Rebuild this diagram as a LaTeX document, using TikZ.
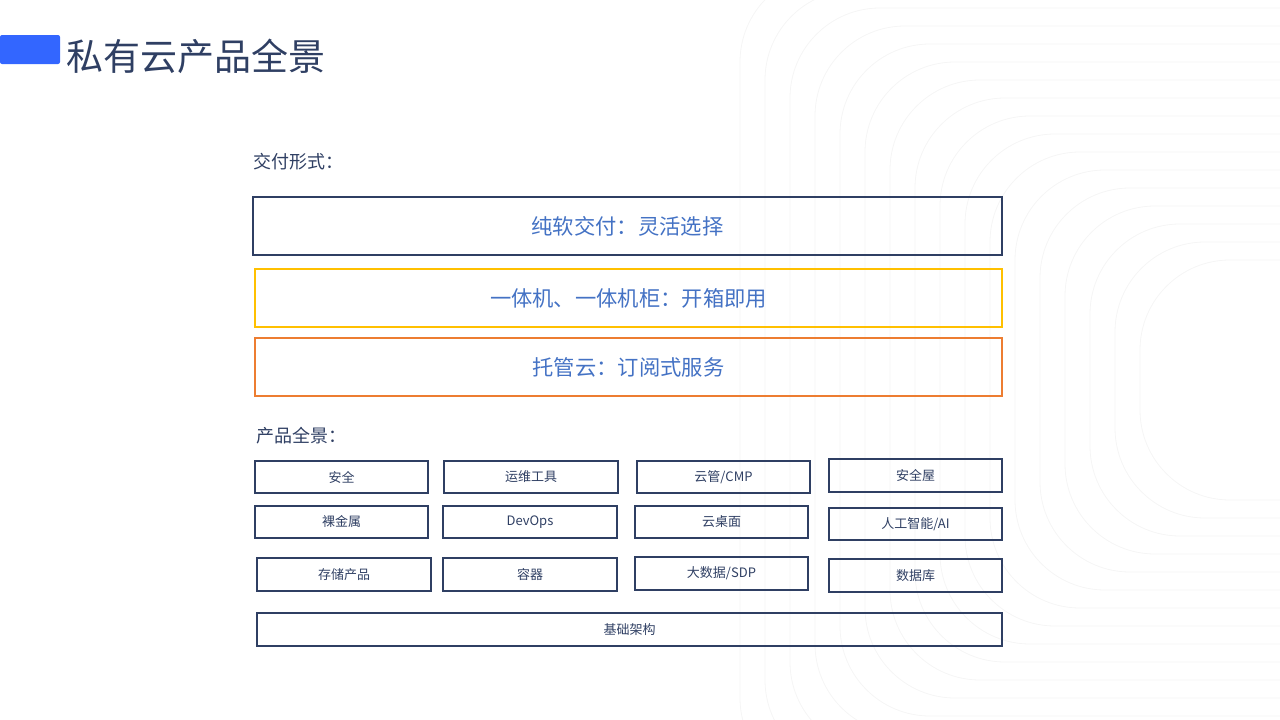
\documentclass[tikz,border=0pt]{standalone}
\usepackage{fontspec}
\newfontfamily\cjk{Noto Sans CJK SC}
\definecolor{navy}{HTML}{2F3F63}
\definecolor{tblue}{HTML}{4472C4}
\definecolor{ylw}{HTML}{FFC000}
\definecolor{org}{HTML}{ED7D31}
\definecolor{bar}{HTML}{3366FF}
\begin{document}
\begin{tikzpicture}[x=1pt,y=-1pt,
  big/.style={draw=#1,line width=2.5pt,font=\cjk\fontsize{21.3}{25}\selectfont,text=tblue},
  cell/.style={draw=navy,line width=2.5pt,font=\cjk\fontsize{13}{16}\selectfont,text=navy}]
\useasboundingbox (0,0) rectangle (1280,720);
\begin{scope}
\clip (0,0) rectangle (1280,720);
\foreach \i in {0,...,16}{
  \draw[black!4,line width=0.8pt,rounded corners=90pt] (1300-25*\i-160,380-18*\i-120) rectangle (1500,380+18*\i+120);
}
\end{scope}
\fill[bar,rounded corners=2pt] (0,35) rectangle (60,64);
\node[anchor=west,font=\cjk\fontsize{37}{42}\selectfont,text=navy] (title) at (63,56) {私有云产品全景};
\node[anchor=west,font=\cjk\fontsize{18}{22}\selectfont,text=navy] (l1) at (250,162) {交付形式：};
\node[big=navy] (p) [minimum width=749,minimum height=58] at (627.5,226) {纯软交付：灵活选择};
\node[big=ylw] (y) [minimum width=747,minimum height=58] at (628.5,298) {一体机、一体机柜：开箱即用};
\node[big=org] (o) [minimum width=747,minimum height=58] at (628.5,367) {托管云：订阅式服务};
\node[anchor=west,font=\cjk\fontsize{18}{22}\selectfont,text=navy] (l2) at (253,436) {产品全景：};
\node[cell,minimum width=173,minimum height=32] (a1) at (341.5,477) {安全};
\node[cell,minimum width=174,minimum height=32] (a2) at (531,477) {运维工具};
\node[cell,minimum width=173,minimum height=32] (a3) at (723.5,477) {云管/CMP};
\node[cell,minimum width=173,minimum height=33] (a4) at (915.5,475.5) {安全屋};
\node[cell,minimum width=173,minimum height=32] (b1) at (341.5,522) {裸金属};
\node[cell,minimum width=174,minimum height=32] (b2) at (530,522) {DevOps};
\node[cell,minimum width=173,minimum height=32] (b3) at (721.5,522) {云桌面};
\node[cell,minimum width=173,minimum height=32] (b4) at (915.5,524) {人工智能/AI};
\node[cell,minimum width=174,minimum height=33] (c1) at (344,574.5) {存储产品};
\node[cell,minimum width=174,minimum height=33] (c2) at (530,574.5) {容器};
\node[cell,minimum width=173,minimum height=33] (c3) at (721.5,573.5) {大数据/SDP};
\node[cell,minimum width=173,minimum height=33] (c4) at (915.5,575.5) {数据库};
\node[cell,minimum width=745,minimum height=33] (base) at (629.5,629.5) {基础架构};
\end{tikzpicture}
\end{document}
